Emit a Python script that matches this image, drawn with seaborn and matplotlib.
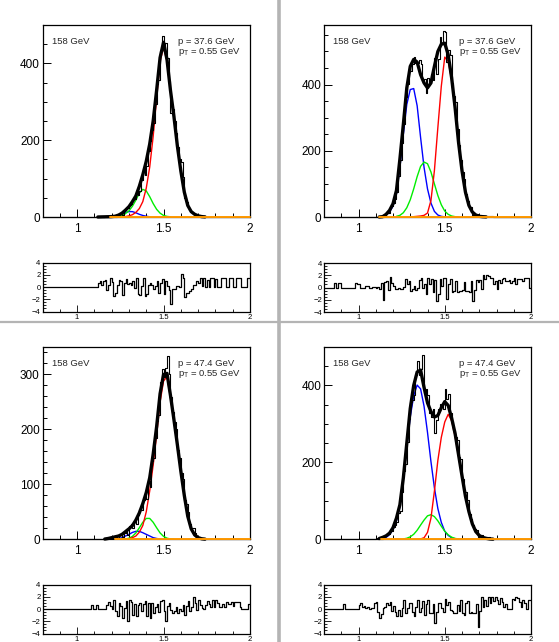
import numpy as np
import pandas as pd
import matplotlib
matplotlib.use("Agg")
import matplotlib.pyplot as plt
import seaborn as sns
from matplotlib.ticker import MultipleLocator, FixedLocator, FuncFormatter
from matplotlib.lines import Line2D

# ---------------- data ----------------
X_MIN, X_MAX = 0.80, 2.00          # histogram range, 120 bins of 0.01
MOMENTUM = ["37.6", "37.6", "47.4", "47.4"]
PT = "0.55"
BEAM = "158 GeV"
YMAX = [500, 580, 350, 500]

HIST1 = [0,0,0,0,0,0,0,0,0,0,
         0,0,0,0,0,0,0,0,0,0,
         0,0,0,0,0,0,0,0,0,0,
         0,0,1,1,1,1,2,0,1,2,
         2,0,1,4,8,10,6,17,24,24,
         30,35,46,46,65,57,68,97,126,110,
         132,172,198,226,245,293,346,356,432,472,
         430,454,414,355,272,281,250,219,183,150,
         144,103,50,38,25,19,12,11,8,7,
         4,4,1,2,0,1,0,1,1,0,
         1,0,0,1,1,1,0,0,1,1,
         0,0,1,1,1,0,0,0,1,1]
HIST2 = [0,0,0,0,0,0,1,0,1,1,
         0,0,0,0,0,0,0,0,1,1,
         1,0,0,0,1,1,0,0,1,1,
         0,1,0,1,0,6,11,12,28,33,
         42,55,77,125,171,225,282,363,402,446,
         442,463,483,465,466,475,461,413,417,375,
         420,405,433,413,481,432,478,544,527,563,
         559,469,503,488,406,367,348,266,216,173,
         135,114,70,49,31,29,7,9,9,6,
         4,1,3,2,2,2,2,2,1,1,
         0,1,1,1,1,1,1,1,1,1,
         1,1,1,1,1,1,1,1,1,0]
HIST3 = [0,0,0,0,0,0,0,0,0,0,
         0,0,0,0,0,0,0,0,0,0,
         0,0,0,0,0,0,0,0,1,0,
         0,1,0,0,0,0,0,2,3,3,
         3,6,4,2,8,9,4,12,19,8,
         25,27,20,34,28,45,55,54,71,86,
         74,107,96,142,148,185,216,227,286,310,
         295,312,333,300,259,231,214,201,163,148,
         120,109,72,64,50,27,20,20,11,5,
         5,3,1,0,1,1,1,0,1,0,
         1,1,0,0,1,0,1,1,1,1,
         0,1,1,1,0,0,0,0,0,1]
HIST4 = [0,0,0,0,0,0,0,0,0,0,
         0,1,0,0,0,0,0,0,0,0,
         1,1,1,1,1,1,0,1,1,2,
         3,1,0,2,5,8,12,14,21,21,
         33,38,46,69,74,123,178,195,253,313,
         357,361,376,426,464,428,443,478,380,390,
         376,329,317,339,277,310,338,351,346,340,
         390,365,377,328,308,283,265,258,214,210,
         156,127,122,102,66,52,36,26,24,7,
         9,12,6,6,3,5,2,3,2,2,
         2,1,2,1,1,1,0,0,0,1,
         1,1,1,1,1,1,1,0,1,1]

RES1 = [0,0,0,0,0,0,0,0,0,0,
        0,0,0,0,0,0,0,0,0,0,
        0,0,0,0,0,0,0,0,0,0,
        0,0,0.6,0.9,0.4,1.0,1.2,-0.5,0.3,1.4,
        0.8,-1.4,-1.0,0.4,1.2,0.9,-1.3,0.7,1.3,0.5,
        0.6,0.3,0.9,-0.2,1.4,-1.2,-1.3,0.2,1.5,-1.5,
        -1.1,0.4,0.6,0.4,-0.3,0.2,0.9,-1.0,0.6,1.3,
        -1.2,0.9,0.2,-0.5,-2.7,-0.4,-0.3,0.1,0.2,0.0,
        2.2,1.4,-1.6,-1.0,-0.9,-0.6,-0.4,0.4,0.3,0.9,
        0.6,1.4,0.2,1.5,0.0,1.2,0.0,1.4,1.4,0.0,
        1.3,0.0,0.0,1.4,1.4,1.4,0.0,0.0,1.4,1.4,
        0.0,0.0,1.4,1.4,1.4,0.0,0.0,0.0,1.4,1.4]
RES2 = [0,0,0,0,0,0,0.8,0,0.8,0.8,
        0,0,0,0,0,0,0,0,0.8,0.5,
        0.5,0,0,0,0.2,0.2,0,0,0.1,0.1,
        0,0.1,-0.3,0.8,-2.0,0.9,1.1,-0.4,1.7,0.8,
        0.3,-0.2,-0.3,0.0,-0.3,-0.2,0.1,1.4,0.6,1.0,
        -0.6,-0.3,0.3,-0.4,-0.1,1.2,1.5,-0.1,0.6,-1.0,
        1.5,0.5,1.4,-0.8,1.2,-2.2,-1.0,1.4,0.2,1.6,
        1.5,-1.8,0.6,1.4,-0.7,-0.5,1.0,-0.7,-0.6,-0.5,
        -0.4,0.9,-0.6,-0.6,-0.7,1.0,-2.2,-0.4,1.2,0.9,
        1.3,-0.3,2.0,1.4,2.1,1.8,1.5,1.6,0.6,1.1,
        -0.2,1.3,0.8,1.4,1.6,1.0,1.0,1.3,0.7,1.1,
        1.5,0.6,1.4,1.4,1.4,1.0,1.5,1.5,1.5,0.0]
RES3 = [0,0,0,0,0,0,0,0,0,0,
        0,0,0,0,0,0,0,0,0,0,
        0,0,0,0,0,0,0,0,0.7,0,
        0,0.7,0,0,0,0,0,0.7,1.1,0.5,
        0.0,1.4,-0.3,-1.2,0.9,0.5,-1.5,0.2,1.3,-2.0,
        1.4,1.1,-0.9,0.8,-1.2,0.7,1.0,-0.3,0.8,1.3,
        -1.2,0.9,-1.5,0.9,-0.6,0.4,0.8,-0.5,1.3,1.5,
        -0.3,-2.0,0.5,1.0,-0.2,-0.6,-0.3,0.4,-0.7,0.0,
        -0.4,0.7,-0.9,0.5,1.3,-0.4,0.3,1.9,1.0,-0.2,
        1.4,0.7,0.2,0.0,0.6,1.3,0.8,0.3,1.4,0.4,
        1.4,1.0,0.3,0.3,0.8,0.3,1.2,0.8,0.8,1.2,
        0.5,1.2,1.1,1.2,0.4,0,0,0,0,0.8]
RES4 = [0,0,0,0,0,0,0,0,0,0,
        0,0.8,0,0,0,0,0,0,0,0,
        0.6,0.9,0.3,0.5,0.2,0.3,0.0,0.2,0.1,0.9,
        1.1,-0.5,-1.5,-0.8,0.1,0.4,0.9,0.6,1.2,-0.3,
        0.5,-0.5,-1.2,-0.1,-1.2,0.2,1.4,-0.6,0.2,0.9,
        0.9,-0.5,-1.2,0.4,1.4,-0.5,0.2,1.3,-1.0,0.8,
        1.4,-0.6,-0.7,0.8,-2.3,-0.5,0.9,1.0,0.2,-0.5,
        1.7,0.6,1.1,-0.2,-0.4,-0.6,-0.6,0.6,-0.4,1.5,
        -0.7,-1.0,1.0,1.3,-0.7,-0.5,-0.6,-0.7,0.8,-3.0,
        -0.3,1.9,0.4,1.5,0.5,2.0,0.9,1.9,1.3,2.0,
        1.5,0.8,1.8,1.2,0.3,0.8,0.0,0.0,0.0,1.7,
        1.5,2.0,1.8,1.2,0.3,1.5,1.0,0.0,1.4,1.4]

# fit curves sampled at these masses (None = not drawn)
CURVE_X = [1.10, 1.12, 1.14, 1.16, 1.18, 1.20, 1.22, 1.24, 1.26, 1.28,
           1.30, 1.32, 1.34, 1.36, 1.38, 1.40, 1.42, 1.44, 1.46, 1.48,
           1.50, 1.52, 1.54, 1.56, 1.58, 1.60, 1.62, 1.64, 1.66, 1.68,
           1.70, 1.72, 1.74, 1.76, 1.78, 1.80]
N = None
FIT1 = [N, 0, 0.3, 0.5, 0.8, 1, 2, 5, 10, 18,
        27, 40, 55, 80, 110, 145, 190, 250, 330, 415,
        455, 410, 330, 262, 185, 120, 65, 30, 14, 7,
        3, 1, 0.3, N, N, N]
RED1 = [N, N, N, N, N, N, N, N, N, 1,
        3, 6, 12, 22, 40, 75, 130, 210, 310, 405,
        442, 405, 328, 261, 185, 120, 65, 30, 14, 7,
        3, 1, N, N, N, N]
GREEN1 = [N, N, N, N, N, N, 0.5, 2, 4, 9,
          16, 28, 44, 62, 72, 68, 53, 35, 20, 10,
          4, 1.5, 0.5, N, N, N, N, N, N, N,
          N, N, N, N, N, N]
BLUE1 = [N, N, N, N, N, 0.5, 2, 4, 8, 12,
         14, 14, 11, 7, 4, 2, 0.5, N, N, N,
         N, N, N, N, N, N, N, N, N, N,
         N, N, N, N, N, N]

FIT2 = [N, 0, 1, 8, 20, 40, 80, 175, 280, 390,
        455, 476, 468, 430, 405, 390, 405, 455, 500, 522,
        525, 490, 420, 330, 225, 140, 75, 35, 15, 6,
        2, 1, 0.3, N, N, N]
RED2 = [N, N, N, N, N, N, N, N, N, N,
        0.5, 1, 2, 3, 5, 12, 50, 140, 270, 395,
        483, 470, 415, 325, 222, 138, 74, 34, 14, 6,
        2, 0.8, N, N, N, N]
GREEN2 = [N, N, N, N, N, N, 2, 5, 13, 28,
          52, 85, 122, 153, 166, 161, 136, 100, 65, 37,
          18, 8, 3, 1, 0.3, N, N, N, N, N,
          N, N, N, N, N, N]
BLUE2 = [N, N, N, 6, 15, 33, 70, 150, 250, 340,
         385, 388, 336, 240, 150, 85, 42, 17, 6, 2,
         0.5, N, N, N, N, N, N, N, N, N,
         N, N, N, N, N, N]

FIT3 = [N, N, N, 0.5, 1.5, 3, 4.5, 6, 9, 14,
        19, 25, 35, 48, 65, 85, 112, 155, 205, 265,
        300, 302, 262, 218, 172, 124, 80, 42, 19, 8,
        3, 1, 0.3, N, N, N]
RED3 = [N, N, N, N, N, N, N, N, N, 0.5,
        1, 3, 6, 13, 25, 50, 88, 135, 190, 250,
        288, 296, 258, 215, 170, 123, 79, 41, 18, 7,
        2.5, 1, N, N, N, N]
GREEN3 = [N, N, N, N, N, N, N, N, 0.2, 0.6,
          2, 5.3, 11.6, 21, 31, 38, 38, 31, 21, 11.6,
          5.3, 2, 0.6, 0.2, N, N, N, N, N, N,
          N, N, N, N, N, N]
BLUE3 = [N, N, N, N, N, N, N, 1.5, 3, 6,
         9, 12.5, 14.5, 14.5, 12, 9, 6, 3, 1.5, 0.5,
         N, N, N, N, N, N, N, N, N, N,
         N, N, N, N, N, N]

FIT4 = [N, 2, 5, 9, 16, 30, 55, 90, 160, 250,
        340, 400, 435, 440, 395, 355, 332, 318, 322, 342,
        358, 348, 315, 275, 220, 165, 112, 72, 40, 20,
        10, 5, 2.5, 1, 0.4, N]
RED4 = [N, N, N, N, N, N, N, N, N, N,
        N, N, 0.3, 1, 4, 18, 55, 125, 205, 265,
        305, 325, 308, 268, 216, 163, 111, 71, 40, 20,
        10, 5, 2.5, 1, N, N]
GREEN4 = [N, N, N, N, N, N, N, N, 1, 2.7,
          6.4, 13, 23.5, 37, 50, 61, 64, 59, 48, 34,
          21, 11.5, 5.5, 2.3, 0.8, N, N, N, N, N,
          N, N, N, N, N, N]
BLUE4 = [N, N, 2, 5, 12, 25, 48, 85, 155, 240,
         318, 373, 401, 391, 346, 278, 202, 134, 80, 44,
         21, 10, 4, 1.5, 0.5, N, N, N, N, N,
         N, N, N, N, N, N]

BKG_START = [1.19, 1.12, 1.22, 1.13]   # background function (zero) drawn from here to 2.0
BKG_LEVEL = 0

HISTS = [HIST1, HIST2, HIST3, HIST4]
RESIDS = [RES1, RES2, RES3, RES4]
FITS = [FIT1, FIT2, FIT3, FIT4]
REDS = [RED1, RED2, RED3, RED4]
GREENS = [GREEN1, GREEN2, GREEN3, GREEN4]
BLUES = [BLUE1, BLUE2, BLUE3, BLUE4]

# ---------------- style ----------------
sns.set_theme(style="ticks")
plt.rcParams['font.family'] = ['Liberation Sans', 'DejaVu Sans']
plt.rcParams['mathtext.fontset'] = 'custom'
plt.rcParams['mathtext.rm'] = 'Liberation Sans'
plt.rcParams['mathtext.it'] = 'Liberation Sans:italic'
plt.rcParams['axes.unicode_minus'] = True

W, H = 559, 642
fig = plt.figure(figsize=(W / 100, H / 100), dpi=100)
fig.patch.set_facecolor('white')


def box(l, t, r, b):
    return [l / W, 1 - b / H, (r - l) / W, (b - t) / H]


# pixel layout of each pad: (main l,t,r,b), (residual l,t,r,b), text anchors
LAYOUT = [
    dict(main=(42.5, 25, 250, 217), res=(42.5, 262.5, 250, 311.5),
         beam=(51.5, 42), mom=(177.5, 42)),
    dict(main=(324, 25, 531, 217), res=(324, 263, 531, 312),
         beam=(333, 42), mom=(459, 42)),
    dict(main=(42.5, 347, 250, 539.3), res=(42.5, 584.5, 250, 633.5),
         beam=(51.5, 364), mom=(177.5, 364)),
    dict(main=(324, 347, 531, 539.3), res=(324, 584.5, 531, 633.5),
         beam=(333, 364), mom=(459, 364)),
]
Y_MAJOR = [200, 200, 100, 200]
Y_MINOR = [50, 50, 20, 50]

fmt_g = FuncFormatter(lambda v, p: f"{v:g}".replace("-", "\u2212"))

edges = np.round(np.linspace(X_MIN, X_MAX, len(HIST1) + 1), 2)

for i in range(4):
    lay = LAYOUT[i]
    ax = fig.add_axes(box(*lay['main']))
    axr = fig.add_axes(box(*lay['res']))

    # component curves
    for vals, col in [(BLUES[i], '#0000ff'), (GREENS[i], '#00ee00'), (REDS[i], '#ff0000')]:
        dfc = pd.DataFrame({'x': CURVE_X, 'y': pd.to_numeric(pd.Series(vals), errors='coerce')}).dropna()
        sns.lineplot(data=dfc, x='x', y='y', ax=ax, color=col, lw=1.0,
                     estimator=None, sort=False, legend=False, zorder=2)
    # total fit
    dff = pd.DataFrame({'x': CURVE_X, 'y': pd.to_numeric(pd.Series(FITS[i]), errors='coerce')}).dropna()
    sns.lineplot(data=dff, x='x', y='y', ax=ax, color='black', lw=2.4,
                 estimator=None, sort=False, legend=False, zorder=3)
    # background (orange)
    dfb = pd.DataFrame({'x': [BKG_START[i], X_MAX], 'y': [BKG_LEVEL, BKG_LEVEL]})
    bl = sns.lineplot(data=dfb, x='x', y='y', ax=ax, color='#ff9900', lw=1.4,
                      estimator=None, sort=False, legend=False, zorder=6)
    # data histogram
    dfh = pd.DataFrame({'x': edges, 'y': list(HISTS[i]) + [HISTS[i][-1]]})
    sns.lineplot(data=dfh, x='x', y='y', ax=ax, color='black', lw=0.8,
                 drawstyle='steps-post', estimator=None, sort=False, legend=False, zorder=5)
    for ln in ax.lines:
        ln.set_clip_on(False)

    ax.set_xlim(X_MIN, X_MAX)
    ax.set_ylim(0, YMAX[i])
    ax.xaxis.set_major_locator(FixedLocator([1.0, 1.5, 2.0]))
    ax.xaxis.set_minor_locator(MultipleLocator(0.1))
    ax.yaxis.set_major_locator(MultipleLocator(Y_MAJOR[i]))
    ax.yaxis.set_minor_locator(MultipleLocator(Y_MINOR[i]))
    ax.xaxis.set_major_formatter(fmt_g)
    ax.yaxis.set_major_formatter(fmt_g)
    ax.set_xlabel('')
    ax.set_ylabel('')
    ax.tick_params(which='both', direction='in', top=False, right=False, width=0.7, colors='black')
    ax.tick_params(which='major', length=6, labelsize=8.5)
    ax.tick_params(which='minor', length=3)
    ax.tick_params(axis='x', which='major', pad=4)
    ax.tick_params(axis='y', which='major', pad=2)
    for s in ax.spines.values():
        s.set_visible(True)
        s.set_linewidth(0.9)
        s.set_color('black')
    ax.set_facecolor('white')

    # residuals
    dfr = pd.DataFrame({'x': edges, 'y': list(RESIDS[i]) + [RESIDS[i][-1]]})
    sns.lineplot(data=dfr, x='x', y='y', ax=axr, color='black', lw=0.9,
                 drawstyle='steps-post', estimator=None, sort=False, legend=False)
    axr.set_xlim(X_MIN, X_MAX)
    axr.set_ylim(-4, 4)
    axr.xaxis.set_major_locator(FixedLocator([1.0, 1.5, 2.0]))
    axr.xaxis.set_minor_locator(MultipleLocator(0.1))
    axr.yaxis.set_major_locator(FixedLocator([-4, -2, 0, 2, 4]))
    axr.yaxis.set_minor_locator(MultipleLocator(0.5))
    axr.xaxis.set_major_formatter(fmt_g)
    axr.yaxis.set_major_formatter(fmt_g)
    axr.set_xlabel('')
    axr.set_ylabel('')
    axr.tick_params(which='both', direction='in', top=False, right=False, width=0.6, colors='black')
    axr.tick_params(which='major', length=5, labelsize=5.5, pad=1.5)
    axr.tick_params(which='minor', length=2.5)
    for s in axr.spines.values():
        s.set_visible(True)
        s.set_linewidth(0.9)
        s.set_color('black')

    bx, by = lay['beam']
    mx, my = lay['mom']
    fig.text(bx / W, 1 - by / H, BEAM, fontsize=6.8, ha='left', va='center')
    fig.text(mx / W, 1 - my / H, f"p = {MOMENTUM[i]} GeV", fontsize=6.8, ha='left', va='center')
    fig.text(mx / W, 1 - (my + 9.5) / H, r"$\mathrm{p}_{\mathrm{T}}$" + f" = {PT} GeV",
             fontsize=6.8, ha='left', va='center')

# pad separators
fig.add_artist(Line2D([278.8 / W, 278.8 / W], [0, 1], color='#b4b4b4', lw=2.6))
fig.add_artist(Line2D([0, 1], [1 - 321.5 / H, 1 - 321.5 / H], color='#b4b4b4', lw=1.6))

fig.savefig('out.png', dpi=100, facecolor='white')
